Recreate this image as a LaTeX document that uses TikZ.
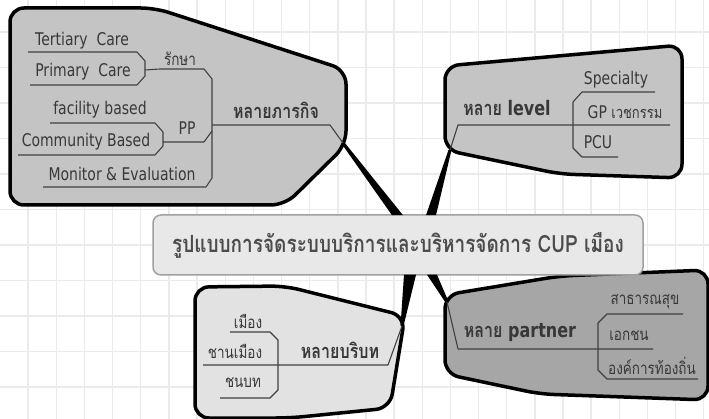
\documentclass[tikz,border=0pt]{standalone}
\usepackage{fontspec}
\usepackage{graphicx}
\setmainfont{DejaVu Sans}
\newfontfamily\thai[Script=Thai]{Loma}
\usetikzlibrary{calc}
\definecolor{gridc}{HTML}{EBEBEB}
\definecolor{textc}{HTML}{383838}
\definecolor{twigc}{HTML}{404040}
\definecolor{fillA}{HTML}{C4C4C4}
\definecolor{fillB}{HTML}{E2E2E2}
\definecolor{fillC}{HTML}{A6A6A6}
\definecolor{boxfill}{HTML}{E8E8E8}
\definecolor{boxdraw}{HTML}{A0A0A0}
\newcommand{\tx}[1]{\scalebox{1}[1.25]{#1}}
\tikzset{
  gridline/.style={draw=gridc, line width=1.4pt},
  blob/.style={draw=black, line width=3.5pt, rounded corners=14pt, line join=round},
  twig/.style={draw=twigc, line width=1.1pt, line join=round},
  lab/.style={inner sep=0pt, text=textc, font=\fontsize{14}{16}\selectfont},
  tlab/.style={lab, font=\thai\fontsize{13.5}{15}\selectfont},
  mainlab/.style={lab, font=\bfseries\fontsize{16}{18}\selectfont},
  conn/.style={fill=black},
  centerbox/.style={draw=boxdraw, fill=boxfill, line width=1.5pt, rounded corners=8pt,
    minimum width=490pt, minimum height=60pt, inner sep=0pt, text=black!70,
    font=\thai\fontsize{19}{22}\selectfont}
}
\begin{document}
\begin{tikzpicture}[x=1pt,y=-1pt]
\useasboundingbox (0,0) rectangle (709,419);
\fill[white] (0,0) rectangle (709,419);
% grid
\foreach \i in {1,...,25} \draw[gridline] (\i*28.15,0) -- (\i*28.15,419);
\foreach \j in {1,...,11} \draw[gridline] (0,-3.5+\j*35.5) -- (709,-3.5+\j*35.5);

% shapes
\draw[blob, fill=fillA] (10,8) -- (155,8) -- (346,70) -- (346,145) -- (285,205) -- (10,205) -- cycle;
\draw[blob, fill=fillA] (445,66) -- (682,45) -- (682,178) -- (560,174) -- (445,150) -- cycle;
\draw[blob, fill=fillB] (195,287) -- (285,286) -- (405,316) -- (390,408) -- (290,418) -- (195,418) -- cycle;
\draw[blob, fill=fillC] (445,295) -- (560,276) -- (708,270) -- (708,400) -- (540,394) -- (445,374) -- cycle;

% center node
\node[centerbox] (c) at (398,245) {\tx{\bfseries รูปแบบการจัดระบบบริการและบริหารจัดการ CUP เมือง}};

% attach points
\coordinate (tlA) at (343,143);
\coordinate (trA) at (450,150);
\coordinate (blA) at (402,326);
\coordinate (brA) at (447,302);

% connectors
\fill[conn] ($(c.north)+(-6,1)$) -- ($(tlA)+(-1.5,0.5)$) -- ($(tlA)+(1.5,-0.5)$) -- ($(c.north)+(5,1)$) -- cycle;
\fill[conn] ($(c.north)+(28,1)$) -- ($(trA)+(-1.5,0)$) -- ($(trA)+(1.5,0)$) -- ($(c.north)+(38,1)$) -- cycle;
\fill[conn] ($(c.south)+(6,-1)$) -- ($(blA)+(-1.5,0)$) -- ($(blA)+(1.5,0)$) -- ($(c.south)+(18,-1)$) -- cycle;
\fill[conn] ($(c.south)+(29,-1)$) -- ($(brA)+(-1.5,0.5)$) -- ($(brA)+(1.5,-0.5)$) -- ($(c.south)+(39,-1)$) -- cycle;

% top-left twigs
\draw[twig] (28,52) -- (137,52) -- (145,61) -- (145,76) -- (137,85) -- (30,85);
\draw[twig] (145,70) -- (160,69) -- (204,69) -- (212,79) -- (212,178) -- (206,187) -- (43,187);
\draw[twig] (50,123) -- (155,123) -- (163,132) -- (163,146) -- (155,155) -- (18,155);
\draw[twig] (163,142) -- (204,142) -- (212,131);
\draw[twig] (212,125) -- (330,125) -- (tlA);
% top-right twigs
\draw[twig] (trA) -- (458,125) -- (670,125);
\draw[twig] (655,92) -- (582,92) -- (573,102) -- (573,148) -- (582,157) -- (618,157);
% bottom-left twigs
\draw[twig] (blA) -- (388,365) -- (203,365);
\draw[twig] (230,332) -- (270,332) -- (278,340) -- (278,390) -- (270,398) -- (220,398);
% bottom-right twigs
\draw[twig] (brA) -- (458,349) -- (653,349);
\draw[twig] (683,314) -- (607,314) -- (598,323) -- (598,370) -- (607,379) -- (698,379);

% labels top-left
\node[lab] (t1) at (82,41) {\tx{Tertiary\ \ Care}};
\node[lab] (t2) at (83,72) {\tx{Primary\ \ Care}};
\node[tlab] (t3) at (180,59) {\tx{รักษา}};
\node[lab] (t4) at (100,110) {\tx{facility based}};
\node[lab] (t5) at (86,142) {\tx{Community Based}};
\node[lab] (t6) at (187,128) {\tx{PP}};
\node[lab] (t7) at (122,174) {\tx{Monitor \& Evaluation}};
\node[mainlab] (m1) at (276,110) {\tx{\thai หลายภารกิจ}};
% top-right
\node[mainlab] (m2) at (507,108) {\tx{{\thai หลาย} level}};
\node[lab] (r1) at (616,80) {\tx{Specialty}};
\node[lab] (r2) at (625,112) {\tx{GP {\thai\fontsize{13}{15}\selectfont เวชกรรม}}};
\node[lab] (r3) at (598,142) {\tx{PCU}};
% bottom-left
\node[mainlab] (m3) at (340,350) {\tx{\thai หลายบริบท}};
\node[tlab] (b1) at (248,321) {\tx{เมือง}};
\node[tlab] (b2) at (235,351) {\tx{ชานเมือง}};
\node[tlab] (b3) at (243,383) {\tx{ชนบท}};
% bottom-right
\node[mainlab] (m4) at (520,333) {\tx{{\thai หลาย} partner}};
\node[tlab] (p1) at (645,302) {\tx{สาธารณสุข}};
\node[tlab] (p2) at (629,336) {\tx{เอกชน}};
\node[tlab] (p3) at (652,366) {\tx{องค์การท้องถิ่น}};
\end{tikzpicture}
\end{document}
